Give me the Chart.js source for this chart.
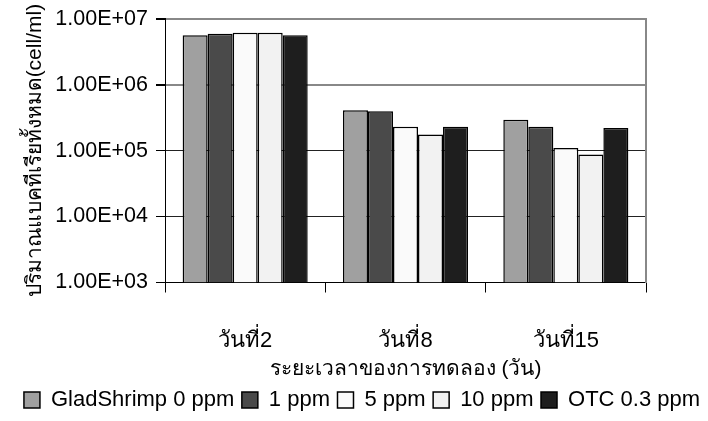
<!DOCTYPE html>
<html>
<head>
<meta charset="utf-8">
<script src="https://cdn.jsdelivr.net/npm/chart.js@4.4.0/dist/chart.umd.min.js"></script>
<style>
    html, body { margin: 0; padding: 0; background: #fff; }
    #wrap { width: 708px; height: 421px; }
</style>
</head>
<body>
<div id="wrap"><canvas id="grafico"></canvas></div>
<script>
    'use strict';

    const dias = ['วันที่2', 'วันที่8', 'วันที่15'];
    const seriesNombres = ['GladShrimp 0 ppm', '1 ppm', '5 ppm', '10 ppm', 'OTC 0.3 ppm'];
    const gladShrimp0 = [5.6e6, 4.1e5, 2.95e5];
    const ppm1 = [5.9e6, 3.95e5, 2.3e5];
    const ppm5 = [6.15e6, 2.3e5, 1.1e5];
    const ppm10 = [6.15e6, 1.75e5, 8.7e4];
    const otc03 = [5.6e6, 2.3e5, 2.2e5];
    const ticksY = [1e3, 1e4, 1e5, 1e6, 1e7];

    const colores = ['#a0a0a0', '#4a4a4a', '#fafafa', '#f2f2f2', '#1e1e1e'];
    const valores = [gladShrimp0, ppm1, ppm5, ppm10, otc03];

    const FUENTE = "'Liberation Sans', Arial, sans-serif";

    function formatoCientifico(valor) {
        const partes = Number(valor).toExponential(2).split('e');
        const exp = Number(partes[1]);
        const signo = exp < 0 ? '-' : '+';
        return `${partes[0]}E${signo}${String(Math.abs(exp)).padStart(2, '0')}`;
    }

    const datasets = seriesNombres.map((nombre, i) => ({
        label: nombre,
        data: valores[i],
        backgroundColor: colores[i],
        borderColor: '#000',
        borderWidth: 1.5,
        categoryPercentage: 0.78,
        barPercentage: 1,
    }));

    new Chart(document.getElementById('grafico'), {
        type: 'bar',
        data: { labels: dias, datasets },
        options: {
            responsive: true,
            maintainAspectRatio: false,
            animation: false,
            layout: { padding: { top: 1, left: 16, right: 0, bottom: 0 } },
            plugins: {
                tooltip: { enabled: false },
                legend: {
                    position: 'bottom',
                    labels: {
                        color: '#000',
                        font: { family: FUENTE, size: 22 },
                        boxWidth: 16,
                        boxHeight: 16,
                        padding: 7.5,
                    },
                },
            },
            scales: {
                x: {
                    afterFit: (scale) => {
                        scale.height = 99;
                    },
                    grid: {
                        offset: true,
                        drawOnChartArea: false,
                        drawTicks: true,
                        tickLength: 10,
                        color: '#000',
                    },
                    border: { color: '#000', width: 1 },
                    ticks: {
                        color: '#000',
                        padding: 35,
                        font: { family: FUENTE, size: 22 },
                        maxRotation: 0,
                    },
                    title: {
                        display: true,
                        text: 'ระยะเวลาของการทดลอง (วัน)',
                        color: '#000',
                        font: { family: FUENTE, size: 21 },
                        padding: { top: 0, bottom: 0 },
                    },
                },
                y: {
                    type: 'logarithmic',
                    min: 1e3,
                    max: 1e7,
                    afterBuildTicks: (scale) => {
                        scale.ticks = ticksY.map((v) => ({ value: v }));
                    },
                    afterFit: (scale) => {
                        scale.width = 149;
                    },
                    grid: {
                        color: (ctx) => (ctx.tick && ctx.tick.value >= 1e6 ? '#888' : '#222'),
                        lineWidth: (ctx) => (ctx.tick && ctx.tick.value >= 1e6 ? 2 : 1),
                        tickColor: '#000',
                        tickLength: 9,
                    },
                    border: { color: '#000', width: 1 },
                    ticks: {
                        color: '#000',
                        padding: 8,
                        font: { family: FUENTE, size: 21.5, lineHeight: 1 },
                        callback: (valor) => formatoCientifico(valor),
                    },
                    title: {
                        display: true,
                        text: 'ปริมาณแบคทีเรียทั้งหมด(cell/ml)',
                        color: '#000',
                        font: { family: FUENTE, size: 21 },
                        padding: { top: 7, bottom: 0 },
                    },
                },
                yDer: {
                    type: 'logarithmic',
                    position: 'right',
                    min: 1e3,
                    max: 1e7,
                    afterFit: (scale) => {
                        scale.width = 62;
                    },
                    grid: { display: false },
                    border: { display: true, color: '#888', width: 2 },
                    ticks: { display: false },
                },
            },
        },
    });
</script>
</body>
</html>
